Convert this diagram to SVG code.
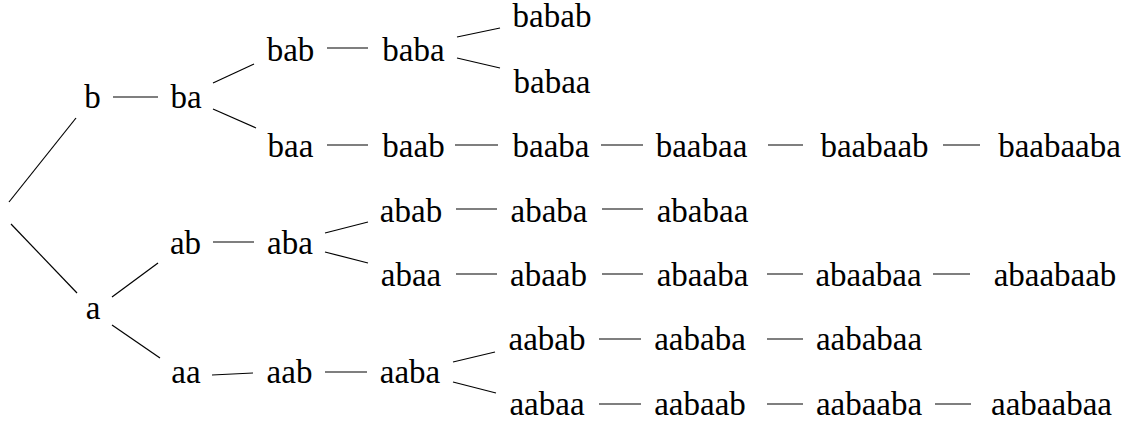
<svg xmlns="http://www.w3.org/2000/svg" width="1130" height="423" viewBox="0 0 1130 423">
<style>
text{font-family:"Liberation Serif","Times New Roman",serif;font-size:33px;fill:#000;text-anchor:middle}
.c line{stroke:#000;stroke-width:1.2;fill:none}
</style>
<rect width="1130" height="423" fill="#fff"/>
<g class="c" id="connectors">
<line x1="9" y1="202" x2="76" y2="118"/>
<line x1="11" y1="224" x2="77" y2="293"/>
<line x1="113" y1="97" x2="158" y2="97"/>
<line x1="213" y1="83" x2="254" y2="64"/>
<line x1="213" y1="109" x2="256" y2="128"/>
<line x1="327" y1="48" x2="368" y2="48"/>
<line x1="457" y1="37" x2="500" y2="28"/>
<line x1="457" y1="58" x2="500" y2="68"/>
<line x1="327" y1="145" x2="368" y2="145"/>
<line x1="455" y1="145" x2="498" y2="145"/>
<line x1="601" y1="145" x2="643" y2="145"/>
<line x1="768" y1="145" x2="803" y2="145"/>
<line x1="943" y1="145" x2="980" y2="145"/>
<line x1="112" y1="297" x2="158" y2="263"/>
<line x1="112" y1="325" x2="160" y2="358"/>
<line x1="213" y1="242" x2="254" y2="242"/>
<line x1="325" y1="233" x2="368" y2="222"/>
<line x1="325" y1="252" x2="368" y2="263"/>
<line x1="456" y1="209" x2="497" y2="209"/>
<line x1="602" y1="209" x2="643" y2="209"/>
<line x1="456" y1="274" x2="497" y2="274"/>
<line x1="602" y1="274" x2="643" y2="274"/>
<line x1="767" y1="274" x2="803" y2="274"/>
<line x1="933" y1="274" x2="970" y2="274"/>
<line x1="212" y1="375" x2="253" y2="373"/>
<line x1="325" y1="372" x2="367" y2="372"/>
<line x1="453" y1="362" x2="495" y2="352"/>
<line x1="453" y1="382" x2="496" y2="393"/>
<line x1="599" y1="339" x2="641" y2="339"/>
<line x1="767" y1="339" x2="803" y2="339"/>
<line x1="599" y1="404" x2="641" y2="404"/>
<line x1="767" y1="404" x2="803" y2="404"/>
<line x1="935" y1="404" x2="971" y2="404"/>
</g>
<g id="n-b"><text x="92.5" y="108">b</text></g>
<g id="n-ba"><text x="186" y="108">ba</text></g>
<g id="n-bab"><text x="290.5" y="61">bab</text></g>
<g id="n-baba"><text x="413.5" y="61">baba</text></g>
<g id="n-babab"><text x="552" y="27">babab</text></g>
<g id="n-babaa"><text x="552" y="93">babaa</text></g>
<g id="n-baa"><text x="290.5" y="157">baa</text></g>
<g id="n-baab"><text x="413.5" y="157">baab</text></g>
<g id="n-baaba"><text x="551" y="157">baaba</text></g>
<g id="n-baabaa"><text x="701.5" y="157">baabaa</text></g>
<g id="n-baabaab"><text x="874.5" y="157">baabaab</text></g>
<g id="n-baabaaba"><text x="1059.5" y="157">baabaaba</text></g>
<g id="n-a"><text x="93" y="319">a</text></g>
<g id="n-ab"><text x="185.5" y="254">ab</text></g>
<g id="n-aba"><text x="290" y="254">aba</text></g>
<g id="n-abab"><text x="411" y="222">abab</text></g>
<g id="n-ababa"><text x="549" y="222">ababa</text></g>
<g id="n-ababaa"><text x="702.5" y="222">ababaa</text></g>
<g id="n-abaa"><text x="411" y="286">abaa</text></g>
<g id="n-abaab"><text x="548.5" y="286">abaab</text></g>
<g id="n-abaaba"><text x="702.5" y="286">abaaba</text></g>
<g id="n-abaabaa"><text x="868.5" y="286">abaabaa</text></g>
<g id="n-abaabaab"><text x="1055" y="286">abaabaab</text></g>
<g id="n-aa"><text x="186" y="383">aa</text></g>
<g id="n-aab"><text x="289.5" y="383">aab</text></g>
<g id="n-aaba"><text x="410" y="383">aaba</text></g>
<g id="n-aabab"><text x="547" y="350">aabab</text></g>
<g id="n-aababa"><text x="700" y="350">aababa</text></g>
<g id="n-aababaa"><text x="869" y="350">aababaa</text></g>
<g id="n-aabaa"><text x="547" y="415">aabaa</text></g>
<g id="n-aabaab"><text x="700" y="415">aabaab</text></g>
<g id="n-aabaaba"><text x="869" y="415">aabaaba</text></g>
<g id="n-aabaabaa"><text x="1051.5" y="415">aabaabaa</text></g>
</svg>
